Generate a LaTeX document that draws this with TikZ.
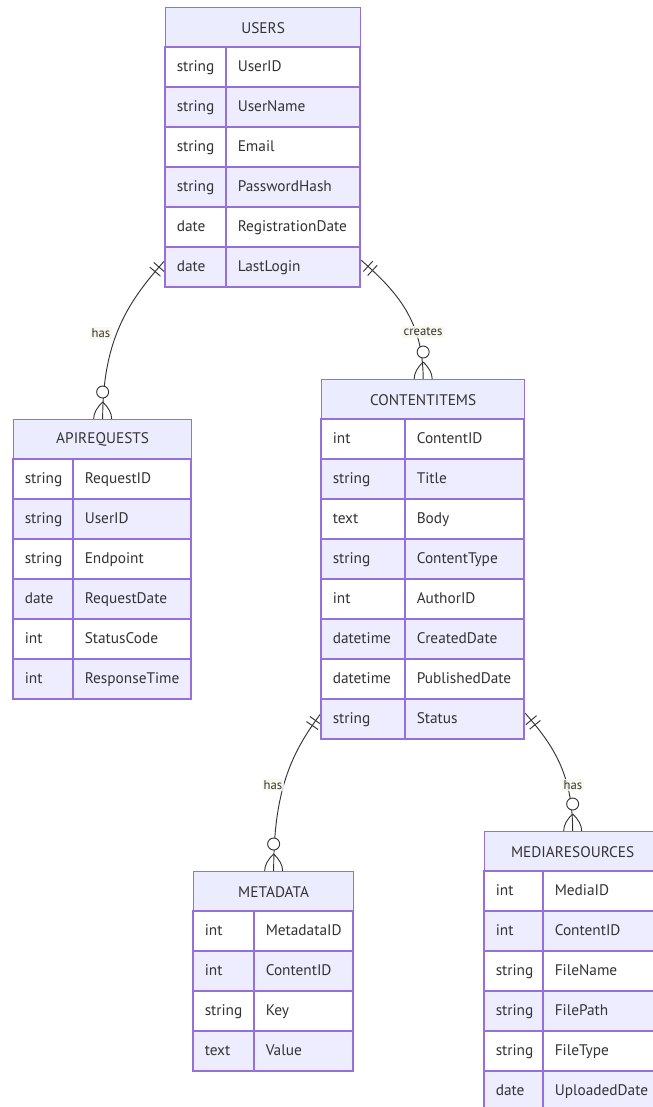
\documentclass[tikz,border=0pt]{standalone}
\usepackage{fontspec}
\setmainfont{PT Sans}
\usetikzlibrary{calc,decorations.markings}

\definecolor{tblborder}{HTML}{9370DB}
\definecolor{hdrfill}{HTML}{ECECFF}
\definecolor{rowalt}{HTML}{EEEDFF}
\definecolor{inkc}{HTML}{333333}
\definecolor{lblbg}{HTML}{F7F7EC}

\pgfdeclarelayer{bg}
\pgfsetlayers{bg,main}

\tikzset{
  tblline/.style={draw=tblborder, line width=1pt},
  tblhead/.style={tblline, fill=hdrfill, inner sep=0pt, minimum height=30pt,
    font=\fontsize{11.5}{13}\selectfont, text=inkc},
  tblframe/.style={tblline, inner sep=0pt},
  celltext/.style={anchor=west, inner sep=0pt, text=inkc,
    font=\fontsize{11.5}{13}\selectfont, text height=1.55ex, text depth=.3ex},
  rellabel/.style={inner sep=1.2pt, fill=lblbg, fill opacity=0.85, text opacity=1,
    text=inkc, font=\fontsize{9.5}{11}\selectfont},
  relbar/.style={draw=inkc, line width=0.7pt},
  rel/.style={draw=inkc, line width=0.7pt, postaction={decorate},
    decoration={markings,
      mark=at position 6.75pt with {\draw[relbar] (0,-5.25pt) -- (0,5.25pt);},
      mark=at position 11.25pt with {\draw[relbar] (0,-5.25pt) -- (0,5.25pt);}}},
  zcirc/.style={circle, draw=inkc, line width=0.7pt, fill=white, inner sep=0pt,
    minimum size=9pt},
}

% entity table: name, left, top, type column width, total width, title, row count, rows
\newcommand{\ertable}[8]{%
  \node[tblhead, minimum width={#5*0.75pt}, anchor=north west] (#1-h) at (#2,#3) {#6};
  \foreach \ty/\nm [count=\i] in {#8} {
    \pgfmathsetmacro\ry{#3+40*\i}
    \ifodd\i \def\rowfill{white}\else \def\rowfill{rowalt}\fi
    \draw[tblline, fill=\rowfill] (#2,\ry) rectangle ++(#5,40);
    \draw[tblline] (#2+#4,\ry) -- ++(0,40);
    \node[celltext] (#1-t\i) at (#2+11.5,\ry+20) {\ty};
    \node[celltext] (#1-n\i) at (#2+#4+11.5,\ry+20) {\nm};
  }
  \node[tblframe, minimum width={#5*0.75pt}, minimum height={(#7+1)*30pt},
    anchor=north west] (#1) at (#2,#3) {};
}

% zero-or-more end: circle and crow's foot above an entry point
\newcommand{\zeromany}[2]{%
  \node[zcirc] (#1) at ($(#2)+(0,-27)$) {};
  \draw[draw=inkc, line width=0.7pt]
    ($(#2)+(0,-17)$) .. controls +(12,11.33) and +(12,-11.33) .. ($(#2)+(0,17)$)
    ($(#2)+(0,-17)$) .. controls +(-12,11.33) and +(-12,-11.33) .. ($(#2)+(0,17)$);
}

\begin{document}
\begin{tikzpicture}[x=0.75pt,y=-0.75pt]
\useasboundingbox (0,0) rectangle (653,1107);
\clip (0,0) rectangle (653,1107);

\ertable{users}{165}{7}{61}{195}{USERS}{6}{string/UserID, string/UserName, string/Email, string/PasswordHash, date/RegistrationDate, date/LastLogin}

\ertable{apireq}{13}{419}{60}{178}{APIREQUESTS}{6}{string/RequestID, string/UserID, string/Endpoint, date/RequestDate, int/StatusCode, int/ResponseTime}

\ertable{content}{321}{379}{84}{203}{CONTENTITEMS}{8}{int/ContentID, string/Title, text/Body, string/ContentType, int/AuthorID, datetime/CreatedDate, datetime/PublishedDate, string/Status}

\ertable{meta}{193}{871}{61}{160}{METADATA}{4}{int/MetadataID, int/ContentID, string/Key, text/Value}

\ertable{media}{484}{831}{59}{176}{MEDIARESOURCES}{6}{int/MediaID, int/ContentID, string/FileName, string/FilePath, string/FileType, date/UploadedDate}

\begin{pgfonlayer}{bg}
  \coordinate (u-left) at ($(users.south west)+(0,-28)$);
  \coordinate (u-right) at ($(users.south east)+(0,-28)$);
  \coordinate (c-left) at ($(content.south west)+(0,-27)$);
  \coordinate (c-right) at ($(content.south east)+(0,-27)$);

  \draw[rel] (u-left) .. controls +(-37,41) and +(0,-79) .. (apireq.north);
  \draw[rel] (u-right) .. controls +(35,31) and +(0,-59) .. (content.north);
  \draw[rel] (c-left) .. controls +(-31,41) and +(0,-78) .. (meta.north);
  \draw[rel] (c-right) .. controls +(27,31) and +(0,-58) .. (media.north);

  \zeromany{z1}{apireq.north}
  \zeromany{z2}{content.north}
  \zeromany{z3}{meta.north}
  \zeromany{z4}{media.north}
\end{pgfonlayer}

\node[rellabel] (l1) at (101,333) {has};
\node[rellabel] (l2) at (423,332) {creates};
\node[rellabel] (l3) at (273,785) {has};
\node[rellabel] (l4) at (573,785) {has};
\end{tikzpicture}
\end{document}
